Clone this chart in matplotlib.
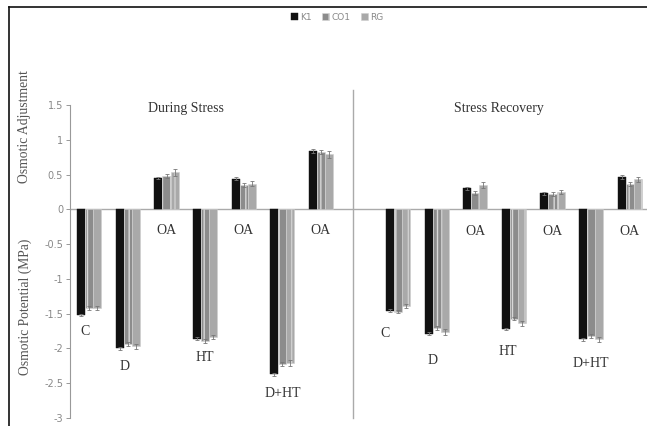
import matplotlib
matplotlib.use("Agg")
import matplotlib.pyplot as plt
from matplotlib.lines import Line2D
import numpy as np

# Data
categories = ["C", "D", "OA", "HT", "OA", "D+HT", "OA",
              "", "C", "D", "OA", "HT", "OA", "D+HT", "OA"]
series_names = ["K1", "CO1", "RG"]
k1 = [-1.52, -2.00, 0.45, -1.86, 0.44, -2.37, 0.84,
      np.nan, -1.46, -1.79, 0.30, -1.72, 0.23, -1.87, 0.47]
co1 = [-1.42, -1.94, 0.48, -1.89, 0.35, -2.22, 0.82,
       np.nan, -1.47, -1.71, 0.23, -1.57, 0.22, -1.82, 0.36]
rg = [-1.42, -1.97, 0.53, -1.83, 0.37, -2.21, 0.79,
      np.nan, -1.39, -1.76, 0.35, -1.64, 0.25, -1.87, 0.43]
err_k1 = [0.02, 0.02, 0.02, 0.02, 0.02, 0.02, 0.03,
          np.nan, 0.02, 0.02, 0.02, 0.02, 0.02, 0.02, 0.03]
err_co1 = [0.03, 0.03, 0.03, 0.03, 0.03, 0.03, 0.03,
           np.nan, 0.02, 0.03, 0.03, 0.02, 0.03, 0.03, 0.03]
err_rg = [0.03, 0.04, 0.05, 0.03, 0.04, 0.04, 0.05,
          np.nan, 0.03, 0.04, 0.05, 0.04, 0.03, 0.04, 0.04]
label_y = [-1.76, -2.26, -0.30, -2.13, -0.30, -2.65, -0.30,
           np.nan, -1.79, -2.18, -0.32, -2.04, -0.32, -2.21, -0.32]
label_dx = [-0.1, -0.1, 0, 0, 0, 0, 0, 0, -0.35, -0.1, 0, -0.15, 0, 0, 0]
phase_titles = ["During Stress", "Stress Recovery"]
yticks = [1.5, 1, 0.5, 0, -0.5, -1, -1.5, -2, -2.5, -3]
ytick_labels = ["1.5", "1", "0.5", "0", "-0.5", "-1", "-1.5", "-2", "-2.5", "-3"]

W, H = 647, 426
fig = plt.figure(figsize=(W / 100, H / 100), dpi=100)
ax = fig.add_axes([70 / W, 1 - 418 / H, (649 - 70) / W, (418 - 105) / H])

x = np.arange(len(categories))
bw = 0.21
ekw = dict(ecolor="#777777", elinewidth=0.6, capsize=1.5, capthick=0.6)
ax.bar(x - bw, k1, bw, color="#111111", edgecolor="#111111", linewidth=0.3,
       yerr=err_k1, error_kw=ekw, label=series_names[0])
ax.bar(x, co1, bw, color="#8c8c8c", edgecolor="#d8d8d8", linewidth=0.4,
       hatch="||", yerr=err_co1, error_kw=ekw, label=series_names[1])
ax.bar(x + bw, rg, bw, color="#a9a9a9", edgecolor="#cfcfcf", linewidth=0.4,
       hatch="|", yerr=err_rg, error_kw=ekw, label=series_names[2])

serif = "Liberation Serif"
for xi, (cat, ly, dx) in enumerate(zip(categories, label_y, label_dx)):
    if cat:
        ax.text(xi + dx, ly, cat, ha="center", va="center", fontsize=10,
                family=serif, color="#333333")

ax.axhline(0, color="#aaaaaa", lw=1.0, zorder=0.5)
ax.plot([6.82, 6.82], [-3, 1.72], color="#aaaaaa", lw=1.0, clip_on=False)

ax.text(2.5, 1.45, phase_titles[0], ha="center", va="center", fontsize=10,
        family=serif, color="#333333")
ax.text(10.6, 1.45, phase_titles[1], ha="center", va="center", fontsize=10,
        family=serif, color="#333333")

ax.set_xlim(-0.5, 14.5)
ax.set_ylim(-3, 1.5)
ax.set_xticks([])
ax.set_yticks(yticks)
ax.set_yticklabels(ytick_labels)
ax.tick_params(axis="y", colors="#888888", labelsize=7, length=3, width=0.6, pad=2)
for s in ["top", "right", "bottom"]:
    ax.spines[s].set_visible(False)
ax.spines["left"].set_color("#999999")
ax.spines["left"].set_linewidth(0.8)

fig.text(25 / W, 1 - 127 / H, "Osmotic Adjustment", rotation=90, ha="center",
         va="center", fontsize=9.8, family=serif, color="#555555")
fig.text(25 / W, 1 - 307 / H, "Osmotic Potential (MPa)", rotation=90, ha="center",
         va="center", fontsize=9.8, family=serif, color="#555555")

# chart-area border (left and top)
fig.add_artist(Line2D([9 / W, 9 / W], [0, 1 - 7 / H], color="#111111", lw=1.2))
fig.add_artist(Line2D([9 / W, 1], [1 - 7 / H, 1 - 7 / H], color="#111111", lw=1.2))

leg = fig.legend(loc="center", bbox_to_anchor=(337 / W, 1 - 17 / H), ncol=3,
                 frameon=False, fontsize=6.5, handlelength=0.8, handleheight=0.8,
                 handletextpad=0.2, columnspacing=1.2)
for t in leg.get_texts():
    t.set_color("#888888")

fig.savefig("out.png", dpi=100)
